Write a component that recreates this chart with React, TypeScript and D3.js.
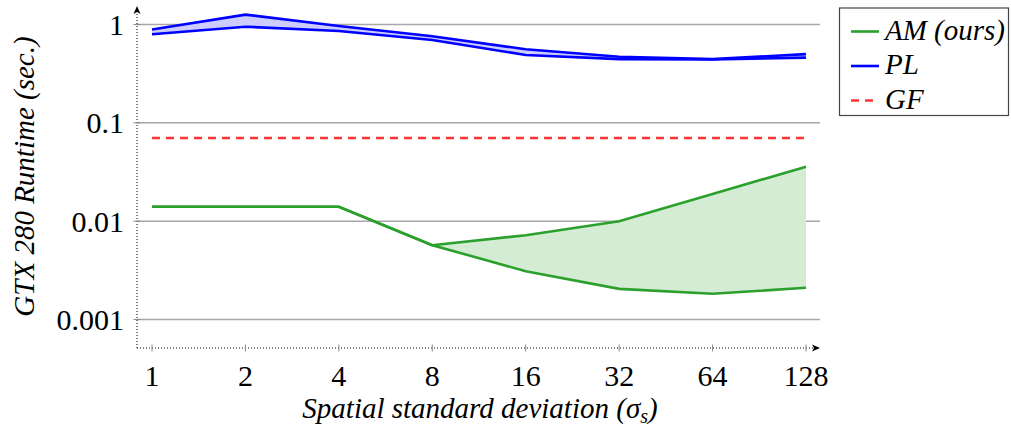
import React from "react";
import * as d3 from "d3";

const sigmas = [1, 2, 4, 8, 16, 32, 64, 128];
const xTickLabels = ["1", "2", "4", "8", "16", "32", "64", "128"];
const yTicks = [1, 0.1, 0.01, 0.001];
const yTickLabels = ["1", "0.1", "0.01", "0.001"];

const amUpper = [0.014, 0.014, 0.014, 0.0057, 0.0072, 0.01, 0.0189, 0.0358];
const amLower = [0.014, 0.014, 0.014, 0.0057, 0.0031, 0.00205, 0.00183, 0.0021];
const plUpper = [0.89, 1.26, 0.965, 0.76, 0.56, 0.47, 0.445, 0.5];
const plLower = [0.795, 0.95, 0.86, 0.695, 0.49, 0.445, 0.44, 0.46];
const gfValue = [0.07, 0.07, 0.07, 0.07, 0.07, 0.07, 0.07, 0.07];

const legendLabels = ["AM (ours)", "PL", "GF"];

const W = 1011;
const H = 433;
const FONT = "Liberation Serif, Tinos, Times New Roman, DejaVu Serif, serif";

export default function App() {
  const x = d3.scaleLog().base(2).domain([1, 128]).range([152, 806]);
  const y = d3.scaleLog().domain([0.001, 1]).range([319.5, 24.5]);

  const axisX0 = 137;
  const axisX1 = 820;
  const axisY = 348;
  const axisTop = 6;

  const pts = (arr: number[]) => arr.map((v, i) => [sigmas[i], v] as [number, number]);
  const line = d3
    .line<[number, number]>()
    .x((d) => x(d[0]))
    .y((d) => y(d[1]));

  const band = (up: number[], lo: number[]) =>
    d3
      .area<number>()
      .x((_, i) => x(sigmas[i]))
      .y0((_, i) => y(lo[i]))
      .y1((_, i) => y(up[i]))(up) || "";

  const green = "#2ca02c";
  const blue = "#0000ff";
  const red = "#ff3333";
  const txt = { fontFamily: FONT } as React.CSSProperties;

  return (
    <svg width={W} height={H} style={{ position: "absolute", left: 0, top: 0, fontFamily: FONT }}>
      <rect x={0} y={0} width={W} height={H} fill="#fff" />
      {yTicks.map((t) => (
        <line key={t} x1={axisX0} x2={axisX1} y1={y(t)} y2={y(t)} stroke="#a8a8a8" strokeWidth={1.5} />
      ))}
      <path d={band(amUpper, amLower)} fill="#d3ecd3" />
      <path d={band(plUpper, plLower)} fill="#ccccff" />
      <path d={line(pts(gfValue)) || ""} fill="none" stroke={red} strokeWidth={2.5} strokeDasharray="8,6" />
      <path d={line(pts(amUpper)) || ""} fill="none" stroke={green} strokeWidth={2.6} />
      <path d={line(pts(amLower)) || ""} fill="none" stroke={green} strokeWidth={2.6} />
      <path d={line(pts(plUpper)) || ""} fill="none" stroke={blue} strokeWidth={2.6} />
      <path d={line(pts(plLower)) || ""} fill="none" stroke={blue} strokeWidth={2.6} />
      <line x1={axisX0} x2={axisX0} y1={axisY} y2={axisTop + 4} stroke="#000" strokeWidth={1} strokeDasharray="1,2" />
      <line x1={axisX0} x2={axisX1 - 4} y1={axisY} y2={axisY} stroke="#000" strokeWidth={1} strokeDasharray="1,2" />
      <path d={`M${axisX0},${axisTop} L${axisX0 - 3.5},${axisTop + 8} L${axisX0},${axisTop + 6} L${axisX0 + 3.5},${axisTop + 8} Z`} fill="#000" />
      <path d={`M${axisX1},${axisY} L${axisX1 - 8},${axisY - 3.5} L${axisX1 - 6},${axisY} L${axisX1 - 8},${axisY + 3.5} Z`} fill="#000" />
      {sigmas.map((s) => (
        <line key={s} x1={x(s)} x2={x(s)} y1={axisY - 3.5} y2={axisY + 3.5} stroke="#888" strokeWidth={1} />
      ))}
      {yTicks.map((t) => (
        <line key={t} x1={axisX0 - 3.5} x2={axisX0 + 3.5} y1={y(t)} y2={y(t)} stroke="#888" strokeWidth={1} />
      ))}
      {sigmas.map((s, i) => (
        <text key={s} x={x(s)} y={386} textAnchor="middle" style={txt} fontSize={30} fill="#000">
          {xTickLabels[i]}
        </text>
      ))}
      {yTicks.map((t, i) => (
        <text key={t} x={124} y={y(t) + 10.5} textAnchor="end" style={txt} fontSize={30} fill="#000">
          {yTickLabels[i]}
        </text>
      ))}
      <text x={480} y={418} textAnchor="middle" style={txt} fontSize={29} fontStyle="italic" fill="#000">
        Spatial standard deviation (<tspan>σ</tspan>
        <tspan fontSize={20} dy={5}>s</tspan>
        <tspan dy={-5}>)</tspan>
      </text>
      <text
        transform={`translate(34,176.5) rotate(-90)`}
        textAnchor="middle"
        style={txt}
        fontSize={29}
        fontStyle="italic"
        fill="#000"
      >
        GTX 280 Runtime (sec.)
      </text>
      <rect x={839.5} y={8} width={169} height={107.5} fill="#fff" stroke="#444" strokeWidth={1.2} />
      {legendLabels.map((lab, i) => {
        const cy = 31.5 + i * 34.5;
        const col = [green, blue, red][i];
        return (
          <g key={lab}>
            <line
              x1={851}
              x2={879}
              y1={cy}
              y2={cy}
              stroke={col}
              strokeWidth={2.6}
              strokeDasharray={i === 2 ? "8,6" : undefined}
            />
            <text x={885} y={cy + 8} style={txt} fontSize={29} fontStyle="italic" fill="#000">
              {lab}
            </text>
          </g>
        );
      })}
    </svg>
  );
}
